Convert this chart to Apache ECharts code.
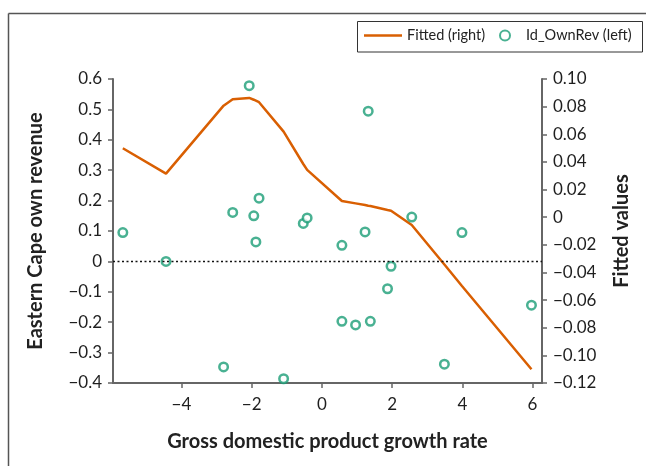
<!DOCTYPE html>
<html>
<head>
<meta charset="utf-8">
<script src="https://cdn.jsdelivr.net/npm/echarts@6/dist/echarts.min.js"></script>
<style>
  html, body { margin: 0; padding: 0; background: #fff; }
  #chart { width: 646px; height: 466px; }
</style>
</head>
<body>
<div id="chart"></div>
<script>
// GDP growth rate (x) and Eastern Cape own revenue (left axis) observations
const gdpGrowth = [-5.67, -4.44, -2.80, -2.54, -2.07, -1.94, -1.88, -1.79, -1.09, -0.53, -0.42,
                   0.57, 0.57, 0.96, 1.23, 1.32, 1.38, 1.87, 1.97, 2.56, 3.49, 3.99, 5.97];
const ownRevenue = [0.095, 0.000, -0.347, 0.161, 0.578, 0.150, 0.064, 0.208, -0.386, 0.125, 0.143,
                    0.053, -0.197, -0.209, 0.097, 0.494, -0.197, -0.090, -0.016, 0.146, -0.338, 0.095, -0.144];
// Fitted values (right axis) at each growth rate
const fittedValues = [0.0499, 0.0315, 0.0807, 0.0853, 0.0863, 0.0850, 0.0843, 0.0832, 0.0619, 0.0385, 0.0342,
                      0.0117, 0.0117, 0.0100, 0.0088, 0.0083, 0.0081, 0.0052, 0.0047, -0.0056, -0.0343, -0.0498, -0.1100];
const xTicks = [-4, -2, 0, 2, 4, 6];

const FONT = 'Lato, "Open Sans", sans-serif';
const AXIS_GRAY = '#666';
const ORANGE = '#d95f02';
const GREEN = '#1b9e77';

const minus = s => s.replace('-', '\u2212');
const fmt = d => v => (Math.abs(v) < 1e-9 ? '0' : minus(v.toFixed(d)));

const scatterData = gdpGrowth.map((x, i) => [x, ownRevenue[i]]);
const fittedData = gdpGrowth.map((x, i) => [x, fittedValues[i]]);

const chart = echarts.init(document.getElementById('chart'), null, { renderer: 'canvas' });

const axisCommon = {
  axisLine: { show: true, onZero: false, lineStyle: { color: AXIS_GRAY, width: 2 } },
  axisTick: { show: true, length: 5, lineStyle: { color: AXIS_GRAY, width: 1.5 } },
  splitLine: { show: false },
  axisLabel: { color: '#1f1f1f', fontFamily: FONT, fontSize: 17, margin: 11 },
  nameTextStyle: { color: '#222', fontFamily: FONT, fontSize: 20, fontWeight: 'bold' }
};

chart.setOption({
  animation: false,
  backgroundColor: '#fff',
  grid: { left: 113, right: 104, top: 79, bottom: 83, containLabel: false },
  xAxis: {
    type: 'value',
    min: -5.95,
    max: 6.27,
    name: 'Gross domestic product growth rate',
    nameLocation: 'middle',
    nameGap: 49,
    ...axisCommon,
    axisTick: { ...axisCommon.axisTick, customValues: xTicks },
    axisLabel: { ...axisCommon.axisLabel, margin: 13, customValues: xTicks, formatter: fmt(0) }
  },
  yAxis: [
    {
      type: 'value',
      min: -0.4,
      max: 0.6,
      interval: 0.1,
      name: 'Eastern Cape own revenue',
      nameLocation: 'middle',
      nameRotate: 90,
      nameGap: 67,
      ...axisCommon,
      axisLabel: { ...axisCommon.axisLabel, formatter: fmt(1) }
    },
    {
      type: 'value',
      position: 'right',
      min: -0.12,
      max: 0.10,
      interval: 0.02,
      name: 'Fitted values',
      nameLocation: 'middle',
      nameRotate: 90,
      nameGap: 70,
      ...axisCommon,
      axisLabel: { ...axisCommon.axisLabel, formatter: fmt(2) }
    }
  ],
  legend: [
    {
      data: [{ name: 'Fitted (right)', icon: 'rect' }],
      left: 364,
      top: 28,
      itemWidth: 38,
      itemHeight: 2.5,
      padding: 0,
      textStyle: { color: '#222', fontFamily: FONT, fontSize: 14.5 },
      selectedMode: false
    },
    {
      data: ['Id_OwnRev (left)'],
      left: 499,
      top: 28,
      itemWidth: 10,
      itemHeight: 10,
      padding: 0,
      textStyle: { color: '#222', fontFamily: FONT, fontSize: 14.5, padding: [0, 0, 0, 11] },
      selectedMode: false
    }
  ],
  graphic: [
    // outer frame: top and left edges
    { type: 'line', shape: { x1: 8.5, y1: 13.5, x2: 646, y2: 13.5 }, style: { stroke: '#555', lineWidth: 1.5 }, silent: true },
    { type: 'line', shape: { x1: 8.5, y1: 13.5, x2: 8.5, y2: 466 }, style: { stroke: '#555', lineWidth: 1.5 }, silent: true },
    // legend box
    { type: 'rect', shape: { x: 357.5, y: 21.5, width: 285, height: 30.5 }, style: { fill: 'none', stroke: '#333', lineWidth: 1 }, silent: true }
  ],
  series: [
    {
      name: 'Fitted (right)',
      type: 'line',
      yAxisIndex: 1,
      data: fittedData,
      symbol: 'none',
      lineStyle: { color: ORANGE, width: 2.5 },
      itemStyle: { color: ORANGE },
      z: 2
    },
    {
      name: 'Id_OwnRev (left)',
      type: 'scatter',
      yAxisIndex: 0,
      data: scatterData,
      symbol: 'circle',
      symbolSize: 8.5,
      itemStyle: { color: '#fff', borderColor: GREEN, borderWidth: 2.5 },
      z: 3,
      markLine: {
        silent: true,
        symbol: 'none',
        label: { show: false },
        lineStyle: { color: '#111', type: [2, 2.5], width: 1.4 },
        data: [{ yAxis: 0 }]
      }
    }
  ]
});
</script>
</body>
</html>
